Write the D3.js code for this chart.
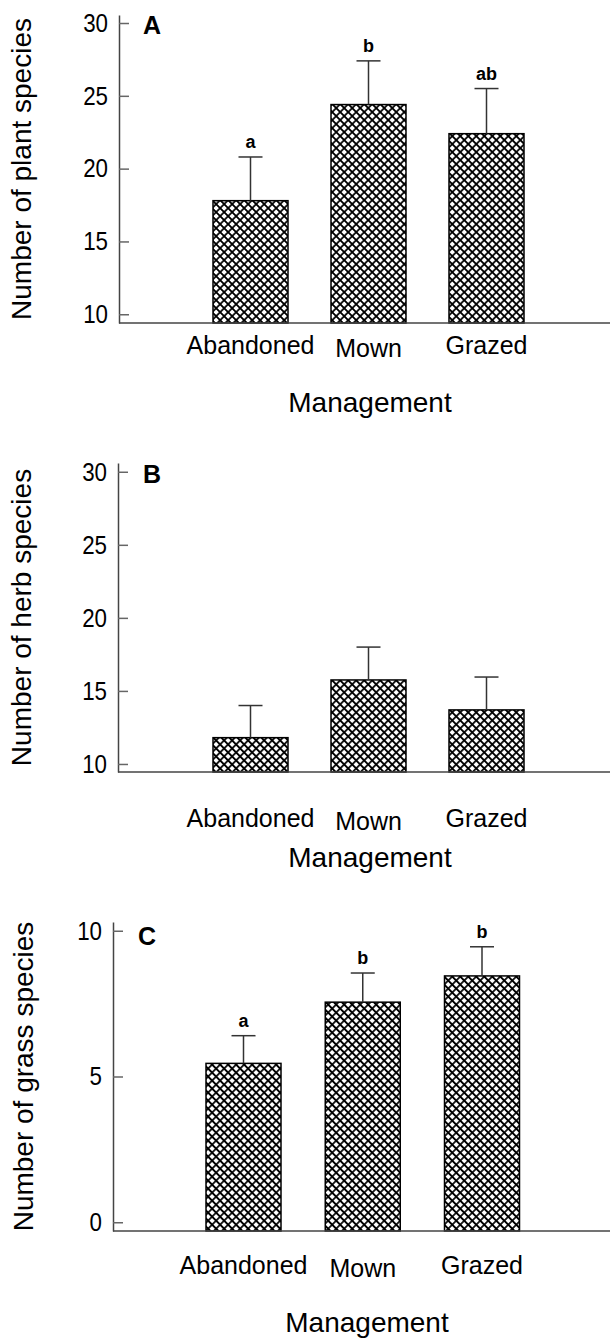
<!DOCTYPE html>
<html>
<head>
<meta charset="utf-8">
<script src="https://cdn.jsdelivr.net/npm/d3@7"></script>
<style>
  body { margin: 0; background: #fff; }
  svg { display: block; font-family: "Liberation Sans", Arial, sans-serif; }
</style>
</head>
<body>
<script>
// values
var categories = ["Abandoned", "Mown", "Grazed"];

var plantMean = [17.8, 24.4, 22.4];
var plantErr = [3.0, 3.0, 3.1];
var plantLetters = ["a", "b", "ab"];

var herbMean = [11.8, 15.75, 13.7];
var herbErr = [2.2, 2.25, 2.25];
var herbLetters = ["", "", ""];

var grassMean = [5.45, 7.55, 8.45];
var grassErr = [0.95, 1.0, 1.0];
var grassLetters = ["a", "b", "b"];

var ticks1030 = [10, 15, 20, 25, 30];
var ticks010 = [0, 5, 10];

var width = 610, height = 1342;

var svg = d3.select("body").append("svg")
    .attr("width", width)
    .attr("height", height);

// cross-hatch fill
var pat = svg.append("defs").append("pattern")
    .attr("id", "hatch")
    .attr("patternUnits", "userSpaceOnUse")
    .attr("width", 5.66)
    .attr("height", 5.66)
    .attr("patternTransform", "rotate(45)");
pat.append("rect").attr("width", 5.66).attr("height", 5.66).attr("fill", "#fff");
pat.append("path")
    .attr("d", "M0,2.83H5.66M2.83,0V5.66")
    .attr("stroke", "#000")
    .attr("stroke-width", 1.7);

var panels = [
  { mean: plantMean, err: plantErr, letters: plantLetters, ticks: ticks1030,
    label: "Number of plant species", tag: "A",
    axisX: 119, yDomain: [9.4, 30.55], yRange: [323, 15], xRange: [250.5, 486.5],
    tagPos: [143, 34], catY: 354, mgmtY: 412, mgmtX: 370, labelX: 31 },
  { mean: herbMean, err: herbErr, letters: herbLetters, ticks: ticks1030,
    label: "Number of herb species", tag: "B",
    axisX: 118, yDomain: [9.45, 30.6], yRange: [772, 463], xRange: [250.5, 486.5],
    tagPos: [143, 483], catY: 827, mgmtY: 867, mgmtX: 370, labelX: 31 },
  { mean: grassMean, err: grassErr, letters: grassLetters, ticks: ticks010,
    label: "Number of grass species", tag: "C",
    axisX: 113, yDomain: [-0.3, 10.3], yRange: [1231, 922], xRange: [243.5, 482],
    tagPos: [138, 945], catY: 1274, mgmtY: 1332, mgmtX: 367, labelX: 33 }
];

panels.forEach(drawPanel);

function drawPanel(p) {
  var barW = 75, capW = 12, narrow = 0.86;

  var y = d3.scaleLinear().domain(p.yDomain).range(p.yRange);
  var x = d3.scalePoint().domain(categories).range(p.xRange);

  var data = categories.map(function (c, i) {
    return { cat: c, mean: p.mean[i], err: p.err[i], letter: p.letters[i] };
  });

  var g = svg.append("g");
  var base = y(p.yDomain[0]);

  // bars
  g.selectAll("rect.bar").data(data).enter().append("rect")
      .attr("class", "bar")
      .attr("x", function (d) { return x(d.cat) - barW / 2; })
      .attr("y", function (d) { return y(d.mean); })
      .attr("width", barW)
      .attr("height", function (d) { return base - y(d.mean); })
      .attr("fill", "url(#hatch)")
      .attr("stroke", "#000")
      .attr("stroke-width", 1.5);

  // error bars (upper only)
  var eb = g.selectAll("g.err").data(data).enter().append("g")
      .attr("class", "err")
      .attr("stroke", "#333")
      .attr("stroke-width", 1.5);
  eb.append("line")
      .attr("x1", function (d) { return x(d.cat); })
      .attr("x2", function (d) { return x(d.cat); })
      .attr("y1", function (d) { return y(d.mean); })
      .attr("y2", function (d) { return y(d.mean + d.err); });
  eb.append("line")
      .attr("x1", function (d) { return x(d.cat) - capW; })
      .attr("x2", function (d) { return x(d.cat) + capW; })
      .attr("y1", function (d) { return y(d.mean + d.err); })
      .attr("y2", function (d) { return y(d.mean + d.err); });

  // significance letters
  g.selectAll("text.sig").data(data).enter().append("text")
      .attr("class", "sig")
      .attr("x", function (d) { return x(d.cat); })
      .attr("y", function (d) { return y(d.mean + d.err) - 9; })
      .attr("text-anchor", "middle")
      .attr("font-size", 18)
      .attr("font-weight", "bold")
      .text(function (d) { return d.letter; });

  // y axis, ticks pointing inward
  var yAxis = d3.axisLeft(y)
      .tickValues(p.ticks)
      .tickSizeInner(-10)
      .tickSizeOuter(0)
      .tickPadding(11);
  var ya = g.append("g")
      .attr("transform", "translate(" + p.axisX + ",0)")
      .call(yAxis);
  ya.select(".domain").attr("stroke", "#444").attr("stroke-width", 1.5);
  ya.selectAll(".tick line").attr("stroke", "#666").attr("stroke-width", 1.5);
  // the original tick numbers are a narrow face, so squeeze them a little
  ya.selectAll(".tick text")
      .attr("fill", "#000")
      .attr("font-size", 26)
      .attr("font-family", "Liberation Sans, Arial, sans-serif")
      .attr("x", -11 / narrow)
      .attr("transform", "scale(" + narrow + ",1)");

  // baseline
  g.append("line")
      .attr("x1", p.axisX).attr("x2", width)
      .attr("y1", base).attr("y2", base)
      .attr("stroke", "#444")
      .attr("stroke-width", 1.5);

  // category labels
  g.selectAll("text.cat").data(data).enter().append("text")
      .attr("class", "cat")
      .attr("x", function (d) { return x(d.cat); })
      .attr("y", function (d) { return d.cat === "Mown" ? p.catY + 3 : p.catY; })
      .attr("text-anchor", "middle")
      .attr("font-size", 25)
      .text(function (d) { return d.cat; });

  g.append("text")
      .attr("x", p.mgmtX)
      .attr("y", p.mgmtY)
      .attr("text-anchor", "middle")
      .attr("font-size", 28)
      .text("Management");

  g.append("text")
      .attr("transform", "translate(" + p.labelX + "," + ((p.yRange[0] + p.yRange[1]) / 2) + ") rotate(-90)")
      .attr("text-anchor", "middle")
      .attr("font-size", 28)
      .text(p.label);

  g.append("text")
      .attr("x", p.tagPos[0])
      .attr("y", p.tagPos[1])
      .attr("font-size", 25)
      .attr("font-weight", "bold")
      .text(p.tag);
}
</script>
</body>
</html>
